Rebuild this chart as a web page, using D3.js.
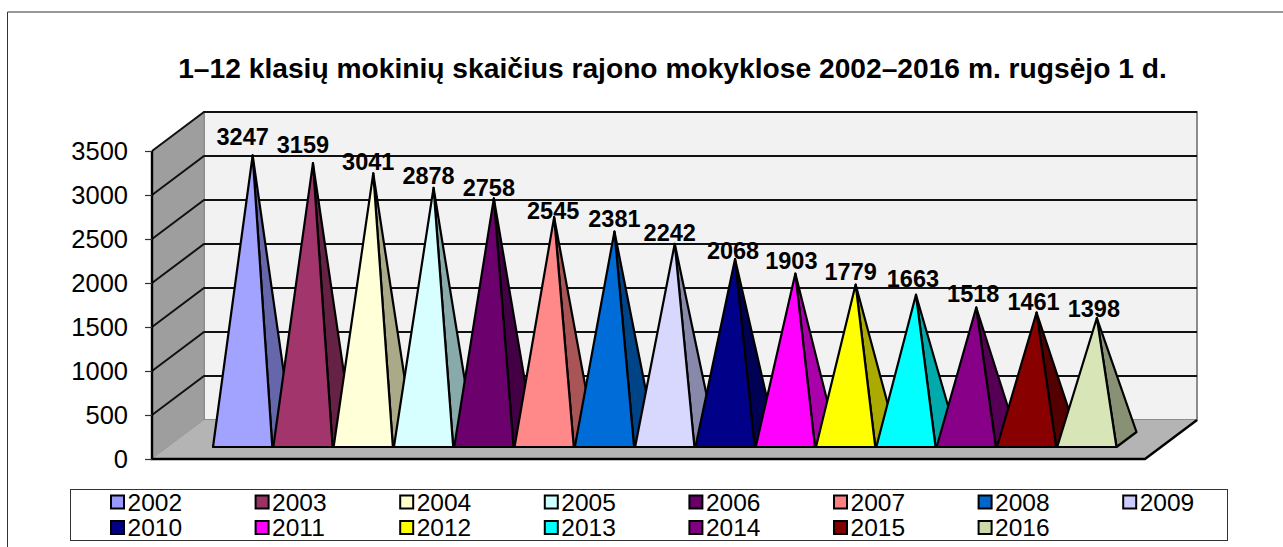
<!DOCTYPE html>
<html>
<head>
<meta charset="utf-8">
<script src="https://cdnjs.cloudflare.com/ajax/libs/d3/7.8.5/d3.min.js"></script>
<style>
  body { margin: 0; background: #fff; }
  text { font-family: "Liberation Sans", Arial, sans-serif; fill: #000; }
</style>
</head>
<body>
<div id="chart"></div>
<script>
const years = ["2002","2003","2004","2005","2006","2007","2008","2009","2010","2011","2012","2013","2014","2015","2016"];
const students = [3247,3159,3041,2878,2758,2545,2381,2242,2068,1903,1779,1663,1518,1461,1398];
const colors = ["#9999ff","#993366","#ffffcc","#ccffff","#660066","#ff8080","#0066cc","#ccccff","#000080","#ff00ff","#ffff00","#00ffff","#800080","#800000","#ccd9ad"];
const yTicks = [0,500,1000,1500,2000,2500,3000,3500];

// the value labels were moved by hand in the original, so each has its own nudge from the apex
const labelDx = [-10,-10,-5,-5,-5,-1,0,-5,-2,-4,-5,-3,-3,-3,-3];
const labelDy = [-17,-17,-10,-10,-9,-5,-11,-9,-7,-11,-11,-14,-12,-9,-7];

const width = 1283, height = 547;
const title = "1–12 klasių mokinių skaičius rajono mokyklose 2002–2016 m. rugsėjo 1 d.";

const svg = d3.select("#chart").append("svg")
  .attr("width", width)
  .attr("height", height)
  .style("display", "block");

// outer frame, cut off at right and bottom
svg.append("path").attr("d", "M7.5,547V12H1283").attr("fill", "none").attr("stroke", "#333").attr("stroke-width", 1);

svg.append("text")
  .attr("x", 672.5).attr("y", 78)
  .attr("text-anchor", "middle")
  .attr("font-size", 28.2)
  .attr("font-weight", "bold")
  .text(title);

// 3d box: depth 0 is the front of the floor, depth 1 the back wall
const y = d3.scaleLinear().domain([0, 3500]).range([459, 151]);
const left = 152, right = 1145, depthX = 52, depthY = 39;
const x = d3.scaleBand().domain(years).range([197, 1101.5]);
const project = (px, v, depth) => [px + depth * depthX, y(v) - depth * depthY];
const poly = pts => "M" + pts.map(p => p.join(",")).join("L") + "Z";

const box = svg.append("g");
// back wall
box.append("path")
  .attr("d", poly([project(left, 0, 1), project(left, 3500, 1), project(right, 3500, 1), project(right, 0, 1)]))
  .attr("fill", "#f2f2f2").attr("stroke", "#8c8c8c").attr("stroke-width", 2);
// side wall
box.append("path")
  .attr("d", poly([project(left, 0, 0), project(left, 3500, 0), project(left, 3500, 1), project(left, 0, 1)]))
  .attr("fill", "#9e9e9e").attr("stroke", "#8c8c8c").attr("stroke-width", 1);
// floor
box.append("path")
  .attr("d", poly([project(left, 0, 0), project(left, 0, 1), project(right, 0, 1), project(right, 0, 0)]))
  .attr("fill", "#b4b4b4");

// gridlines run along the side wall and the back wall
box.selectAll(".grid").data(yTicks.filter(d => d > 0)).enter().append("path")
  .attr("class", "grid")
  .attr("d", d => "M" + [project(left, d, 0), project(left, d, 1), project(right, d, 1)].map(p => p.join(",")).join("L"))
  .attr("fill", "none")
  .attr("stroke", "#111")
  .attr("stroke-width", 2);

// front and right edges of the floor
box.append("path")
  .attr("d", "M" + [project(left, 3500, 0), project(left, 0, 0), project(right, 0, 0), project(right, 0, 1)].map(p => p.join(",")).join("L"))
  .attr("fill", "none").attr("stroke", "#000").attr("stroke-width", 2.4);

const yAxis = d3.axisLeft(y).tickValues(yTicks).tickFormat(d3.format("d")).tickSize(7).tickSizeOuter(0).tickPadding(17);
const axisG = svg.append("g").attr("transform", `translate(${left},0)`).call(yAxis);
axisG.select(".domain").remove();
axisG.selectAll("line").attr("stroke", "#333").attr("stroke-width", 1.2);
axisG.selectAll("text").attr("font-size", 25.5).style("font-family", '"Liberation Sans", Arial, sans-serif');

// pyramids, left to right so that each one covers the shaded side of the one before
const d0 = 0.3077, d1 = 0.6923, apexDepth = 0.46;
const data = years.map((year, i) => ({ year, value: students[i], color: colors[i], i }));
const shade = (c, k) => {
  const r = d3.rgb(c);
  return d3.rgb(Math.min(255, r.r * k), Math.min(255, r.g * k), Math.min(255, r.b * k)).formatHex();
};

const pyr = svg.append("g").selectAll("g").data(data).enter().append("g");
pyr.each(function(d) {
  const g = d3.select(this);
  const x0 = x(d.year), x1 = x0 + x.bandwidth() - 1, xc = (x0 + x1) / 2;
  const apex = [project(xc, d.value, 0.5)[0], project(xc, d.value, apexDepth)[1]];
  const frontR = project(x1, 0, d0), backR = project(x1, 0, d1);
  g.append("path")
    .attr("d", poly([frontR, backR, apex]))
    .attr("fill", shade(d.color, 0.667));
  g.append("path")
    .attr("d", poly([project(x0, 0, d0), frontR, apex]))
    .attr("fill", shade(d.color, 1.06));
});
pyr.selectAll("path")
  .attr("stroke", "#000")
  .attr("stroke-width", 2.2)
  .attr("stroke-linejoin", "round");

// value labels go on top of everything
svg.append("g").selectAll("text").data(data).enter().append("text")
  .attr("x", d => project(x(d.year) + (x.bandwidth() - 1) / 2, d.value, 0.5)[0] + labelDx[d.i])
  .attr("y", d => project(x(d.year), d.value, 0.5)[1] + labelDy[d.i] + 8)
  .attr("text-anchor", "middle")
  .attr("font-size", 23.5)
  .attr("font-weight", "bold")
  .text(d => d.value);

// legend
svg.append("rect")
  .attr("x", 70.5).attr("y", 489.5).attr("width", 1157).attr("height", 51)
  .attr("fill", "#fff").attr("stroke", "#333").attr("stroke-width", 1);

const perRow = 8;
const legendX = d3.scalePoint().domain(d3.range(perRow)).range([110, 110 + 144.6 * 7]);
const legendY = d3.scalePoint().domain([0, 1]).range([502, 527.5]);
const item = svg.append("g").selectAll("g").data(data).enter().append("g")
  .attr("transform", d => `translate(${legendX(d.i % perRow)},${legendY(Math.floor(d.i / perRow))})`);
item.append("rect")
  .attr("x", 1).attr("y", -6.5).attr("width", 13).attr("height", 13)
  .attr("fill", d => d.color)
  .attr("stroke", "#000").attr("stroke-width", 2);
item.append("text")
  .attr("x", 17.5).attr("y", 8.5)
  .attr("font-size", 24.5)
  .text(d => d.year);
</script>
</body>
</html>
